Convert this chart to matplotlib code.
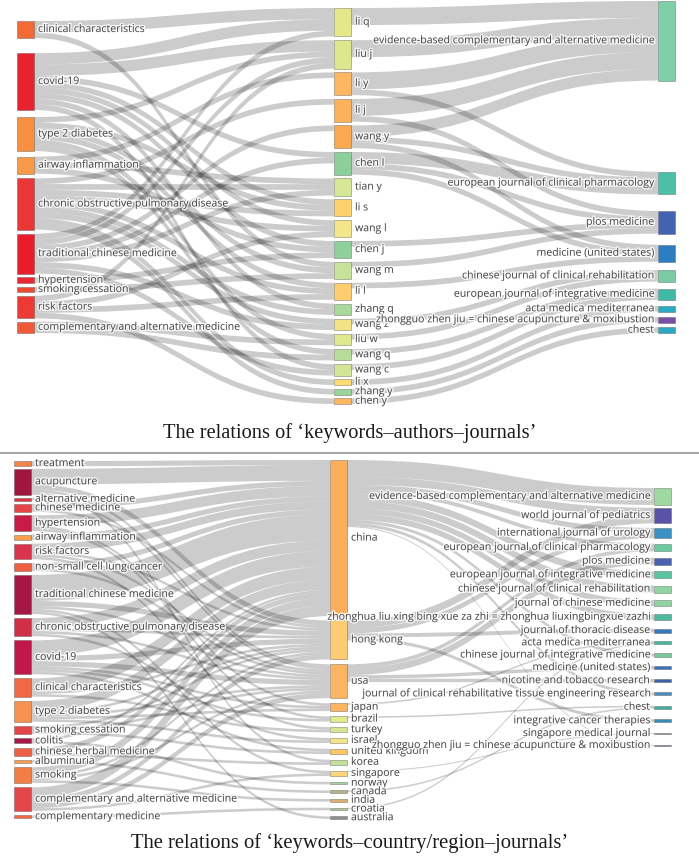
import matplotlib
matplotlib.use('Agg')
import matplotlib.pyplot as plt
import matplotlib.patheffects as pe
from matplotlib.path import Path
from matplotlib.patches import PathPatch, Rectangle

# ---------------- top panel: keywords - authors - journals ----------------
top_keywords = ['clinical characteristics', 'covid-19', 'type 2 diabetes', 'airway inflammation',
                'chronic obstructive pulmonary disease', 'traditional chinese medicine',
                'hypertension', 'smoking cessation', 'risk factors',
                'complementary and alternative medicine']
top_keyword_colors = ['#f26a36', '#e8232f', '#f78f40', '#f89b48', '#eb3636', '#e81c2b',
                      '#e92831', '#ec4a37', '#ec3b35', '#f05a3a']

top_authors = ['li q', 'liu j', 'li y', 'li j', 'wang y', 'chen l', 'tian y', 'li s', 'wang l',
               'chen j', 'wang m', 'li l', 'zhang q', 'wang z', 'liu w', 'wang q', 'wang c',
               'li x', 'zhang y', 'chen y']
top_author_colors = ['#e4e78a', '#dde78c', '#fdb762', '#fcb25c', '#fba852', '#8dcf9b', '#d6e795',
                     '#fed16f', '#f3e68a', '#8fcf9b', '#c7e29b', '#fecd6d', '#a9d99b', '#f2e486',
                     '#dfe98f', '#b6dd9a', '#d3e697', '#fedb74', '#9ad49a', '#fdb762']

top_journals = ['evidence-based complementary and alternative medicine',
                'european journal of clinical pharmacology', 'plos medicine',
                'medicine (united states)', 'chinese journal of clinical rehabilitation',
                'european journal of integrative medicine', 'acta medica mediterranea',
                'zhongguo zhen jiu = chinese acupuncture & moxibustion', 'chest']
top_journal_colors = ['#80cfa9', '#4cbfa8', '#4562b0', '#2c7cc1', '#7acaa6', '#40baa6',
                      '#2aabbf', '#7850a8', '#2ca8c3']

# (keyword, author, papers)
top_kw_author = [
    ('clinical characteristics', 'li q', 2), ('clinical characteristics', 'wang m', 1),
    ('covid-19', 'li q', 2), ('covid-19', 'liu j', 2), ('covid-19', 'chen l', 1),
    ('covid-19', 'li s', 1), ('covid-19', 'wang l', 1), ('covid-19', 'chen j', 1),
    ('covid-19', 'zhang q', 1), ('covid-19', 'wang c', 1),
    ('type 2 diabetes', 'liu j', 1), ('type 2 diabetes', 'li s', 1),
    ('type 2 diabetes', 'wang m', 1), ('type 2 diabetes', 'li l', 1),
    ('type 2 diabetes', 'liu w', 1), ('type 2 diabetes', 'wang q', 1),
    ('airway inflammation', 'li y', 1), ('airway inflammation', 'tian y', 1),
    ('airway inflammation', 'chen j', 1),
    ('chronic obstructive pulmonary disease', 'li j', 1),
    ('chronic obstructive pulmonary disease', 'tian y', 1),
    ('chronic obstructive pulmonary disease', 'li s', 1),
    ('chronic obstructive pulmonary disease', 'wang l', 1),
    ('chronic obstructive pulmonary disease', 'li l', 1),
    ('chronic obstructive pulmonary disease', 'zhang q', 1),
    ('chronic obstructive pulmonary disease', 'wang z', 1),
    ('chronic obstructive pulmonary disease', 'li x', 1),
    ('chronic obstructive pulmonary disease', 'zhang y', 1),
    ('traditional chinese medicine', 'li q', 1), ('traditional chinese medicine', 'liu j', 1),
    ('traditional chinese medicine', 'wang y', 1), ('traditional chinese medicine', 'chen l', 1),
    ('traditional chinese medicine', 'tian y', 1), ('traditional chinese medicine', 'wang z', 1),
    ('traditional chinese medicine', 'wang c', 1),
    ('hypertension', 'chen j', 1), ('smoking cessation', 'wang m', 1),
    ('risk factors', 'liu j', 1), ('risk factors', 'wang l', 1),
    ('risk factors', 'li l', 1), ('risk factors', 'chen y', 1),
    ('complementary and alternative medicine', 'liu w', 1),
    ('complementary and alternative medicine', 'wang q', 1),
]

EB = 'evidence-based complementary and alternative medicine'
EJCP = 'european journal of clinical pharmacology'
top_author_journal = [
    ('li q', EB, 3), ('liu j', EB, 3),
    ('li y', EB, 3), ('li y', EJCP, 1),
    ('li j', EB, 3), ('li j', 'plos medicine', 1),
    ('wang y', EB, 2), ('wang y', EJCP, 1), ('wang y', 'medicine (united states)', 1),
    ('chen l', EJCP, 2), ('chen l', 'plos medicine', 1),
    ('chen l', 'medicine (united states)', 1),
    ('chen j', 'plos medicine', 1), ('wang m', 'plos medicine', 1),
    ('li l', 'medicine (united states)', 1),
    ('wang z', 'chinese journal of clinical rehabilitation', 1),
    ('liu w', 'chinese journal of clinical rehabilitation', 1),
    ('wang q', 'european journal of integrative medicine', 1),
    ('wang c', 'european journal of integrative medicine', 1),
    ('li x', 'acta medica mediterranea', 1),
    ('zhang y', 'zhongguo zhen jiu = chinese acupuncture & moxibustion', 1),
    ('chen y', 'chest', 1),
]

# ---------------- bottom panel: keywords - country/region - journals ----------------
bot_keywords = ['treatment', 'acupuncture', 'alternative medicine', 'chinese medicine',
                'hypertension', 'airway inflammation', 'risk factors',
                'non-small cell lung cancer', 'traditional chinese medicine',
                'chronic obstructive pulmonary disease', 'covid-19', 'clinical characteristics',
                'type 2 diabetes', 'smoking cessation', 'colitis', 'chinese herbal medicine',
                'albuminuria', 'smoking', 'complementary and alternative medicine',
                'complementary medicine']
bot_keyword_colors = ['#f3844a', '#a0163f', '#d93545', '#e54545', '#c81b45', '#f8a050',
                      '#d8344a', '#ee6040', '#a51845', '#d02f48', '#c0184a', '#f06845',
                      '#f69250', '#e34448', '#a81848', '#ee6045', '#f8a050', '#f27e45',
                      '#e4474a', '#f06845']

bot_countries = ['china', 'hong kong', 'usa', 'japan', 'brazil', 'turkey', 'israel',
                 'united kingdom', 'korea', 'singapore', 'norway', 'canada', 'india',
                 'croatia', 'australia']
bot_country_colors = ['#fbae5c', '#fdcb72', '#fbb462', '#fbb462', '#e2e98f', '#d6e594',
                      '#f3e58a', '#fdc46a', '#c3e09a', '#fdd57a', '#a0d3a0', '#b8b48a',
                      '#d8b070', '#a8c890', '#8f8f8f']

bot_journals = ['evidence-based complementary and alternative medicine',
                'world journal of pediatrics', 'international journal of urology',
                'european journal of clinical pharmacology', 'plos medicine',
                'european journal of integrative medicine',
                'chinese journal of clinical rehabilitation', 'journal of chinese medicine',
                'zhonghua liu xing bing xue za zhi = zhonghua liuxingbingxue zazhi',
                'journal of thoracic disease', 'acta medica mediterranea',
                'chinese journal of integrative medicine', 'medicine (united states)',
                'nicotine and tobacco research',
                'journal of clinical rehabilitative tissue engineering research', 'chest',
                'integrative cancer therapies', 'singapore medical journal',
                'zhongguo zhen jiu = chinese acupuncture & moxibustion']
bot_journal_colors = ['#9fd8a0', '#5a52a6', '#3a91c2', '#6ecba0', '#4a62b0', '#5cc3a0',
                      '#92d4a2', '#90d4a5', '#4fb9a0', '#3479bc', '#48b5a0', '#7ac8a0',
                      '#3a70b8', '#3e60a8', '#4c8cc0', '#42b0a0', '#3a8cb8', '#888898',
                      '#7a7a9a']

bot_kw_country = [
    ('treatment', 'china', 2),
    ('acupuncture', 'china', 6), ('acupuncture', 'hong kong', 2), ('acupuncture', 'usa', 1),
    ('acupuncture', 'korea', 1),
    ('alternative medicine', 'usa', 1),
    ('chinese medicine', 'china', 2), ('chinese medicine', 'hong kong', 1),
    ('hypertension', 'china', 4), ('hypertension', 'japan', 1), ('hypertension', 'brazil', 1),
    ('airway inflammation', 'china', 2),
    ('risk factors', 'china', 3), ('risk factors', 'hong kong', 1), ('risk factors', 'usa', 1),
    ('risk factors', 'turkey', 1),
    ('non-small cell lung cancer', 'china', 2), ('non-small cell lung cancer', 'usa', 1),
    ('traditional chinese medicine', 'china', 10), ('traditional chinese medicine', 'hong kong', 2),
    ('traditional chinese medicine', 'usa', 1), ('traditional chinese medicine', 'singapore', 1),
    ('traditional chinese medicine', 'australia', 1),
    ('chronic obstructive pulmonary disease', 'china', 4),
    ('chronic obstructive pulmonary disease', 'hong kong', 1),
    ('chronic obstructive pulmonary disease', 'usa', 1),
    ('chronic obstructive pulmonary disease', 'israel', 1),
    ('covid-19', 'china', 6), ('covid-19', 'hong kong', 2), ('covid-19', 'usa', 2),
    ('covid-19', 'japan', 1), ('covid-19', 'brazil', 1), ('covid-19', 'united kingdom', 1),
    ('clinical characteristics', 'china', 5), ('clinical characteristics', 'hong kong', 1),
    ('clinical characteristics', 'turkey', 1),
    ('type 2 diabetes', 'china', 4), ('type 2 diabetes', 'hong kong', 1),
    ('type 2 diabetes', 'usa', 1), ('type 2 diabetes', 'japan', 1),
    ('type 2 diabetes', 'israel', 1),
    ('smoking cessation', 'hong kong', 1), ('smoking cessation', 'usa', 1),
    ('smoking cessation', 'united kingdom', 1),
    ('colitis', 'china', 1), ('colitis', 'norway', 1),
    ('chinese herbal medicine', 'china', 2), ('chinese herbal medicine', 'korea', 1),
    ('albuminuria', 'canada', 1),
    ('smoking', 'china', 3), ('smoking', 'hong kong', 1), ('smoking', 'usa', 1),
    ('smoking', 'india', 1),
    ('complementary and alternative medicine', 'china', 4),
    ('complementary and alternative medicine', 'hong kong', 2),
    ('complementary and alternative medicine', 'usa', 2),
    ('complementary and alternative medicine', 'singapore', 1),
    ('complementary medicine', 'croatia', 1),
]

bot_country_journal = [
    ('china', EB, 6.5), ('china', 'world journal of pediatrics', 3),
    ('china', 'international journal of urology', 2),
    ('china', EJCP, 1.5),
    ('china', 'european journal of integrative medicine', 2.7),
    ('china', 'chinese journal of clinical rehabilitation', 2.7),
    ('china', 'journal of chinese medicine', 2.3),
    ('china', 'zhonghua liu xing bing xue za zhi = zhonghua liuxingbingxue zazhi', 2.3),
    ('china', 'chinese journal of integrative medicine', 1.2),
    ('china', 'journal of clinical rehabilitative tissue engineering research', 1.2),
    ('china', 'zhongguo zhen jiu = chinese acupuncture & moxibustion', 0.4),
    ('hong kong', 'world journal of pediatrics', 3),
    ('hong kong', 'international journal of urology', 2),
    ('hong kong', 'journal of thoracic disease', 1.5),
    ('hong kong', 'integrative cancer therapies', 1.2),
    ('usa', EJCP, 1.5), ('usa', 'plos medicine', 2.7),
    ('usa', 'medicine (united states)', 1.3), ('usa', 'nicotine and tobacco research', 1.3),
    ('japan', 'acta medica mediterranea', 0.6), ('croatia', 'acta medica mediterranea', 0.6),
    ('brazil', 'chest', 0.6), ('canada', 'chest', 0.6),
    ('singapore', 'singapore medical journal', 0.4),
]

TOP_CAPTION = 'The relations of \u2018keywords\u2013authors\u2013journals\u2019'
BOT_CAPTION = 'The relations of \u2018keywords\u2013country/region\u2013journals\u2019'


def layout_sankey(columns, links, extents, spread, pad):
    """Node height = max(inflow, outflow); nodes of a column are spread over its extent.
    spread < 1 puts the wider gaps near the top, > 1 near the bottom."""
    nodes = {}
    for layer, col in enumerate(columns):
        for name in col:
            nodes[name] = {'name': name, 'layer': layer, 'src': [], 'tgt': []}
    link_objs = []
    for s, t, v in links:
        lk = {'s': s, 't': t, 'v': v}
        nodes[s]['src'].append(lk)
        nodes[t]['tgt'].append(lk)
        link_objs.append(lk)
    for nd in nodes.values():
        nd['value'] = max(sum(l['v'] for l in nd['src']), sum(l['v'] for l in nd['tgt']))

    cols = [[nodes[n] for n in col] for col in columns]
    ky = min((y1 - y0 - (len(c) - 1) * pad) / sum(n['value'] for n in c)
             for c, (y0, y1) in zip(cols, extents))
    for lk in link_objs:
        lk['w'] = lk['v'] * ky

    for c, (y0, y1), p in zip(cols, extents, spread):
        free = y1 - y0 - sum(n['value'] for n in c) * ky
        n = len(c)
        y = y0
        for i, nd in enumerate(c):
            shift = free * (i / (n - 1)) ** p if n > 1 else 0
            nd['y0'] = y + shift
            nd['y1'] = nd['y0'] + nd['value'] * ky
            y += nd['value'] * ky

    # stack the ribbons at each node, ordered by the position of the other end
    for nd in nodes.values():
        nd['src'].sort(key=lambda l: nodes[l['t']]['y0'])
        nd['tgt'].sort(key=lambda l: nodes[l['s']]['y0'])
        ys = yt = nd['y0']
        for lk in nd['src']:
            lk['y0'] = ys + lk['w'] / 2
            ys += lk['w']
        for lk in nd['tgt']:
            lk['y1'] = yt + lk['w'] / 2
            yt += lk['w']
    return nodes, link_objs


def draw_sankey(ax, columns, colors, links, col_x, extents, spread, pad, node_w=17):
    nodes, link_objs = layout_sankey(columns, links, extents, spread, pad)
    name_x = {}
    for layer, col in enumerate(columns):
        for name in col:
            name_x[name] = col_x[layer]

    # links
    for lk in link_objs:
        xs = name_x[lk['s']] + node_w
        xt = name_x[lk['t']]
        xm = (xs + xt) / 2
        h = lk['w'] / 2
        ys, yt = lk['y0'], lk['y1']
        verts = [(xs, ys - h), (xm, ys - h), (xm, yt - h), (xt, yt - h),
                 (xt, yt + h), (xm, yt + h), (xm, ys + h), (xs, ys + h), (xs, ys - h)]
        codes = [Path.MOVETO, Path.CURVE4, Path.CURVE4, Path.CURVE4,
                 Path.LINETO, Path.CURVE4, Path.CURVE4, Path.CURVE4, Path.CLOSEPOLY]
        ax.add_patch(PathPatch(Path(verts, codes), facecolor=(0, 0, 0, 0.2),
                               edgecolor='none', lw=0))

    # nodes and labels
    halo = [pe.withStroke(linewidth=2, foreground='white', alpha=0.85)]
    last = len(columns) - 1
    for layer, col in enumerate(columns):
        for name, color in zip(col, colors[layer]):
            nd = nodes[name]
            x0 = col_x[layer]
            ax.add_patch(Rectangle((x0, nd['y0']), node_w, nd['y1'] - nd['y0'],
                                   facecolor=color, edgecolor=(0.27, 0.27, 0.27, 0.5), lw=0.5))
            yc = (nd['y0'] + nd['y1']) / 2
            if layer == last:
                ax.text(x0 - 4, yc, name, ha='right', va='center', fontsize=7.6,
                        color='#444444', family='Open Sans', path_effects=halo)
            else:
                ax.text(x0 + node_w + 4, yc, name, ha='left', va='center', fontsize=7.6,
                        color='#444444', family='Open Sans', path_effects=halo)


def main():
    W, H = 699, 859
    fig = plt.figure(figsize=(W / 100, H / 100), dpi=100)
    ax = fig.add_axes([0, 0, 1, 1])
    ax.set_xlim(0, W)
    ax.set_ylim(H, 0)
    ax.axis('off')

    draw_sankey(ax, [top_keywords, top_authors, top_journals],
                [top_keyword_colors, top_author_colors, top_journal_colors],
                top_kw_author + top_author_journal,
                col_x=[17, 334, 658], extents=[(21, 333), (8, 404), (1, 333)],
                spread=[0.55, 1.0, 0.24], pad=3.8)

    draw_sankey(ax, [bot_keywords, bot_countries, bot_journals],
                [bot_keyword_colors, bot_country_colors, bot_journal_colors],
                bot_kw_country + bot_country_journal,
                col_x=[14, 330, 654], extents=[(461, 818), (460, 819), (488, 746)],
                spread=[1.15, 1.1, 1.36], pad=4)

    ax.plot([0, W], [453, 453], color='#a6a6a6', lw=1.5)
    ax.text(W / 2, 433, TOP_CAPTION, ha='center', va='center', fontsize=14.7,
            family='Liberation Serif', color='#1a1a1a')
    ax.text(W / 2, 843, BOT_CAPTION, ha='center', va='center', fontsize=14.9,
            family='Liberation Serif', color='#1a1a1a')

    fig.savefig('out.png', dpi=100, facecolor='white')


if __name__ == '__main__':
    main()
